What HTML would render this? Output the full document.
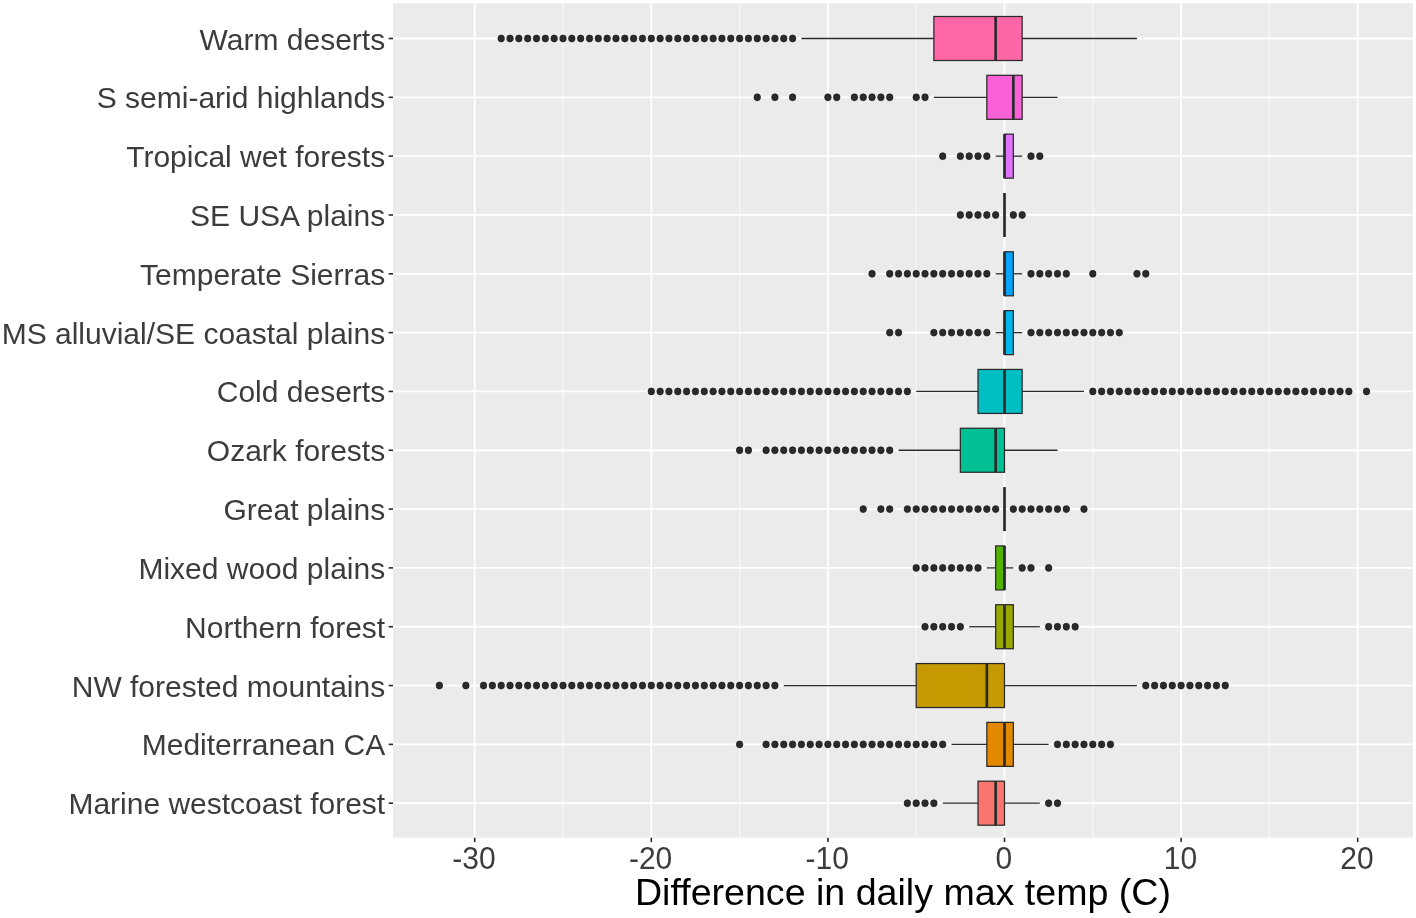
<!DOCTYPE html>
<html><head><meta charset="utf-8"><style>
html,body{margin:0;padding:0;background:#fff;}
body{width:1416px;height:918px;overflow:hidden;}
svg{display:block;font-family:"Liberation Sans", sans-serif;}
</style></head><body>
<svg width="1416" height="918" viewBox="0 0 1416 918">
<rect x="0" y="0" width="1416" height="918" fill="#FFFFFF"/>
<rect x="393.04" y="3.20" width="1019.86" height="834.50" fill="#EBEBEB"/>
<line x1="563.00" y1="3.20" x2="563.00" y2="837.70" stroke="#F8F8F8" stroke-width="1.2"/>
<line x1="739.60" y1="3.20" x2="739.60" y2="837.70" stroke="#F8F8F8" stroke-width="1.2"/>
<line x1="916.20" y1="3.20" x2="916.20" y2="837.70" stroke="#F8F8F8" stroke-width="1.2"/>
<line x1="1092.80" y1="3.20" x2="1092.80" y2="837.70" stroke="#F8F8F8" stroke-width="1.2"/>
<line x1="1269.40" y1="3.20" x2="1269.40" y2="837.70" stroke="#F8F8F8" stroke-width="1.2"/>
<line x1="474.70" y1="3.20" x2="474.70" y2="837.70" stroke="#FFFFFF" stroke-width="1.8"/>
<line x1="651.30" y1="3.20" x2="651.30" y2="837.70" stroke="#FFFFFF" stroke-width="1.8"/>
<line x1="827.90" y1="3.20" x2="827.90" y2="837.70" stroke="#FFFFFF" stroke-width="1.8"/>
<line x1="1004.50" y1="3.20" x2="1004.50" y2="837.70" stroke="#FFFFFF" stroke-width="1.8"/>
<line x1="1181.10" y1="3.20" x2="1181.10" y2="837.70" stroke="#FFFFFF" stroke-width="1.8"/>
<line x1="1357.70" y1="3.20" x2="1357.70" y2="837.70" stroke="#FFFFFF" stroke-width="1.8"/>
<line x1="393.04" y1="38.50" x2="1412.90" y2="38.50" stroke="#FFFFFF" stroke-width="1.8"/>
<line x1="393.04" y1="97.32" x2="1412.90" y2="97.32" stroke="#FFFFFF" stroke-width="1.8"/>
<line x1="393.04" y1="156.15" x2="1412.90" y2="156.15" stroke="#FFFFFF" stroke-width="1.8"/>
<line x1="393.04" y1="214.97" x2="1412.90" y2="214.97" stroke="#FFFFFF" stroke-width="1.8"/>
<line x1="393.04" y1="273.79" x2="1412.90" y2="273.79" stroke="#FFFFFF" stroke-width="1.8"/>
<line x1="393.04" y1="332.62" x2="1412.90" y2="332.62" stroke="#FFFFFF" stroke-width="1.8"/>
<line x1="393.04" y1="391.44" x2="1412.90" y2="391.44" stroke="#FFFFFF" stroke-width="1.8"/>
<line x1="393.04" y1="450.26" x2="1412.90" y2="450.26" stroke="#FFFFFF" stroke-width="1.8"/>
<line x1="393.04" y1="509.08" x2="1412.90" y2="509.08" stroke="#FFFFFF" stroke-width="1.8"/>
<line x1="393.04" y1="567.91" x2="1412.90" y2="567.91" stroke="#FFFFFF" stroke-width="1.8"/>
<line x1="393.04" y1="626.73" x2="1412.90" y2="626.73" stroke="#FFFFFF" stroke-width="1.8"/>
<line x1="393.04" y1="685.55" x2="1412.90" y2="685.55" stroke="#FFFFFF" stroke-width="1.8"/>
<line x1="393.04" y1="744.38" x2="1412.90" y2="744.38" stroke="#FFFFFF" stroke-width="1.8"/>
<line x1="393.04" y1="803.20" x2="1412.90" y2="803.20" stroke="#FFFFFF" stroke-width="1.8"/>
<line x1="801.41" y1="38.50" x2="933.86" y2="38.50" stroke="#2A2A2A" stroke-width="1.3"/>
<line x1="1022.16" y1="38.50" x2="1136.95" y2="38.50" stroke="#2A2A2A" stroke-width="1.3"/>
<ellipse cx="501.19" cy="38.50" rx="3.25" ry="3.45" fill="#2B2B2B" stroke="#161616" stroke-width="0.7"/>
<ellipse cx="510.02" cy="38.50" rx="3.25" ry="3.45" fill="#2B2B2B" stroke="#161616" stroke-width="0.7"/>
<ellipse cx="518.85" cy="38.50" rx="3.25" ry="3.45" fill="#2B2B2B" stroke="#161616" stroke-width="0.7"/>
<ellipse cx="527.68" cy="38.50" rx="3.25" ry="3.45" fill="#2B2B2B" stroke="#161616" stroke-width="0.7"/>
<ellipse cx="536.51" cy="38.50" rx="3.25" ry="3.45" fill="#2B2B2B" stroke="#161616" stroke-width="0.7"/>
<ellipse cx="545.34" cy="38.50" rx="3.25" ry="3.45" fill="#2B2B2B" stroke="#161616" stroke-width="0.7"/>
<ellipse cx="554.17" cy="38.50" rx="3.25" ry="3.45" fill="#2B2B2B" stroke="#161616" stroke-width="0.7"/>
<ellipse cx="563.00" cy="38.50" rx="3.25" ry="3.45" fill="#2B2B2B" stroke="#161616" stroke-width="0.7"/>
<ellipse cx="571.83" cy="38.50" rx="3.25" ry="3.45" fill="#2B2B2B" stroke="#161616" stroke-width="0.7"/>
<ellipse cx="580.66" cy="38.50" rx="3.25" ry="3.45" fill="#2B2B2B" stroke="#161616" stroke-width="0.7"/>
<ellipse cx="589.49" cy="38.50" rx="3.25" ry="3.45" fill="#2B2B2B" stroke="#161616" stroke-width="0.7"/>
<ellipse cx="598.32" cy="38.50" rx="3.25" ry="3.45" fill="#2B2B2B" stroke="#161616" stroke-width="0.7"/>
<ellipse cx="607.15" cy="38.50" rx="3.25" ry="3.45" fill="#2B2B2B" stroke="#161616" stroke-width="0.7"/>
<ellipse cx="615.98" cy="38.50" rx="3.25" ry="3.45" fill="#2B2B2B" stroke="#161616" stroke-width="0.7"/>
<ellipse cx="624.81" cy="38.50" rx="3.25" ry="3.45" fill="#2B2B2B" stroke="#161616" stroke-width="0.7"/>
<ellipse cx="633.64" cy="38.50" rx="3.25" ry="3.45" fill="#2B2B2B" stroke="#161616" stroke-width="0.7"/>
<ellipse cx="642.47" cy="38.50" rx="3.25" ry="3.45" fill="#2B2B2B" stroke="#161616" stroke-width="0.7"/>
<ellipse cx="651.30" cy="38.50" rx="3.25" ry="3.45" fill="#2B2B2B" stroke="#161616" stroke-width="0.7"/>
<ellipse cx="660.13" cy="38.50" rx="3.25" ry="3.45" fill="#2B2B2B" stroke="#161616" stroke-width="0.7"/>
<ellipse cx="668.96" cy="38.50" rx="3.25" ry="3.45" fill="#2B2B2B" stroke="#161616" stroke-width="0.7"/>
<ellipse cx="677.79" cy="38.50" rx="3.25" ry="3.45" fill="#2B2B2B" stroke="#161616" stroke-width="0.7"/>
<ellipse cx="686.62" cy="38.50" rx="3.25" ry="3.45" fill="#2B2B2B" stroke="#161616" stroke-width="0.7"/>
<ellipse cx="695.45" cy="38.50" rx="3.25" ry="3.45" fill="#2B2B2B" stroke="#161616" stroke-width="0.7"/>
<ellipse cx="704.28" cy="38.50" rx="3.25" ry="3.45" fill="#2B2B2B" stroke="#161616" stroke-width="0.7"/>
<ellipse cx="713.11" cy="38.50" rx="3.25" ry="3.45" fill="#2B2B2B" stroke="#161616" stroke-width="0.7"/>
<ellipse cx="721.94" cy="38.50" rx="3.25" ry="3.45" fill="#2B2B2B" stroke="#161616" stroke-width="0.7"/>
<ellipse cx="730.77" cy="38.50" rx="3.25" ry="3.45" fill="#2B2B2B" stroke="#161616" stroke-width="0.7"/>
<ellipse cx="739.60" cy="38.50" rx="3.25" ry="3.45" fill="#2B2B2B" stroke="#161616" stroke-width="0.7"/>
<ellipse cx="748.43" cy="38.50" rx="3.25" ry="3.45" fill="#2B2B2B" stroke="#161616" stroke-width="0.7"/>
<ellipse cx="757.26" cy="38.50" rx="3.25" ry="3.45" fill="#2B2B2B" stroke="#161616" stroke-width="0.7"/>
<ellipse cx="766.09" cy="38.50" rx="3.25" ry="3.45" fill="#2B2B2B" stroke="#161616" stroke-width="0.7"/>
<ellipse cx="774.92" cy="38.50" rx="3.25" ry="3.45" fill="#2B2B2B" stroke="#161616" stroke-width="0.7"/>
<ellipse cx="783.75" cy="38.50" rx="3.25" ry="3.45" fill="#2B2B2B" stroke="#161616" stroke-width="0.7"/>
<ellipse cx="792.58" cy="38.50" rx="3.25" ry="3.45" fill="#2B2B2B" stroke="#161616" stroke-width="0.7"/>
<rect x="933.86" y="16.50" width="88.30" height="44.00" fill="#FF66A8" stroke="#2A2A2A" stroke-width="1.25"/>
<line x1="995.67" y1="16.50" x2="995.67" y2="60.50" stroke="#2A2A2A" stroke-width="2.7"/>
<line x1="933.86" y1="97.32" x2="986.84" y2="97.32" stroke="#2A2A2A" stroke-width="1.3"/>
<line x1="1022.16" y1="97.32" x2="1057.48" y2="97.32" stroke="#2A2A2A" stroke-width="1.3"/>
<ellipse cx="757.26" cy="97.32" rx="3.25" ry="3.45" fill="#2B2B2B" stroke="#161616" stroke-width="0.7"/>
<ellipse cx="774.92" cy="97.32" rx="3.25" ry="3.45" fill="#2B2B2B" stroke="#161616" stroke-width="0.7"/>
<ellipse cx="792.58" cy="97.32" rx="3.25" ry="3.45" fill="#2B2B2B" stroke="#161616" stroke-width="0.7"/>
<ellipse cx="827.90" cy="97.32" rx="3.25" ry="3.45" fill="#2B2B2B" stroke="#161616" stroke-width="0.7"/>
<ellipse cx="836.73" cy="97.32" rx="3.25" ry="3.45" fill="#2B2B2B" stroke="#161616" stroke-width="0.7"/>
<ellipse cx="854.39" cy="97.32" rx="3.25" ry="3.45" fill="#2B2B2B" stroke="#161616" stroke-width="0.7"/>
<ellipse cx="863.22" cy="97.32" rx="3.25" ry="3.45" fill="#2B2B2B" stroke="#161616" stroke-width="0.7"/>
<ellipse cx="872.05" cy="97.32" rx="3.25" ry="3.45" fill="#2B2B2B" stroke="#161616" stroke-width="0.7"/>
<ellipse cx="880.88" cy="97.32" rx="3.25" ry="3.45" fill="#2B2B2B" stroke="#161616" stroke-width="0.7"/>
<ellipse cx="889.71" cy="97.32" rx="3.25" ry="3.45" fill="#2B2B2B" stroke="#161616" stroke-width="0.7"/>
<ellipse cx="916.20" cy="97.32" rx="3.25" ry="3.45" fill="#2B2B2B" stroke="#161616" stroke-width="0.7"/>
<ellipse cx="925.03" cy="97.32" rx="3.25" ry="3.45" fill="#2B2B2B" stroke="#161616" stroke-width="0.7"/>
<rect x="986.84" y="75.32" width="35.32" height="44.00" fill="#FB61D7" stroke="#2A2A2A" stroke-width="1.25"/>
<line x1="1013.33" y1="75.32" x2="1013.33" y2="119.32" stroke="#2A2A2A" stroke-width="2.7"/>
<line x1="995.67" y1="156.15" x2="1004.50" y2="156.15" stroke="#2A2A2A" stroke-width="1.3"/>
<line x1="1013.33" y1="156.15" x2="1022.16" y2="156.15" stroke="#2A2A2A" stroke-width="1.3"/>
<ellipse cx="942.69" cy="156.15" rx="3.25" ry="3.45" fill="#2B2B2B" stroke="#161616" stroke-width="0.7"/>
<ellipse cx="960.35" cy="156.15" rx="3.25" ry="3.45" fill="#2B2B2B" stroke="#161616" stroke-width="0.7"/>
<ellipse cx="969.18" cy="156.15" rx="3.25" ry="3.45" fill="#2B2B2B" stroke="#161616" stroke-width="0.7"/>
<ellipse cx="978.01" cy="156.15" rx="3.25" ry="3.45" fill="#2B2B2B" stroke="#161616" stroke-width="0.7"/>
<ellipse cx="986.84" cy="156.15" rx="3.25" ry="3.45" fill="#2B2B2B" stroke="#161616" stroke-width="0.7"/>
<ellipse cx="1030.99" cy="156.15" rx="3.25" ry="3.45" fill="#2B2B2B" stroke="#161616" stroke-width="0.7"/>
<ellipse cx="1039.82" cy="156.15" rx="3.25" ry="3.45" fill="#2B2B2B" stroke="#161616" stroke-width="0.7"/>
<rect x="1004.50" y="134.15" width="8.83" height="44.00" fill="#DF70F8" stroke="#2A2A2A" stroke-width="1.25"/>
<line x1="1004.50" y1="134.15" x2="1004.50" y2="178.15" stroke="#2A2A2A" stroke-width="2.7"/>
<ellipse cx="960.35" cy="214.97" rx="3.25" ry="3.45" fill="#2B2B2B" stroke="#161616" stroke-width="0.7"/>
<ellipse cx="969.18" cy="214.97" rx="3.25" ry="3.45" fill="#2B2B2B" stroke="#161616" stroke-width="0.7"/>
<ellipse cx="978.01" cy="214.97" rx="3.25" ry="3.45" fill="#2B2B2B" stroke="#161616" stroke-width="0.7"/>
<ellipse cx="986.84" cy="214.97" rx="3.25" ry="3.45" fill="#2B2B2B" stroke="#161616" stroke-width="0.7"/>
<ellipse cx="995.67" cy="214.97" rx="3.25" ry="3.45" fill="#2B2B2B" stroke="#161616" stroke-width="0.7"/>
<ellipse cx="1013.33" cy="214.97" rx="3.25" ry="3.45" fill="#2B2B2B" stroke="#161616" stroke-width="0.7"/>
<ellipse cx="1022.16" cy="214.97" rx="3.25" ry="3.45" fill="#2B2B2B" stroke="#161616" stroke-width="0.7"/>
<rect x="1004.50" y="192.97" width="0.00" height="44.00" fill="#A58AFF" stroke="#2A2A2A" stroke-width="1.25"/>
<line x1="1004.50" y1="192.97" x2="1004.50" y2="236.97" stroke="#2A2A2A" stroke-width="2.7"/>
<line x1="995.67" y1="273.79" x2="1004.50" y2="273.79" stroke="#2A2A2A" stroke-width="1.3"/>
<line x1="1013.33" y1="273.79" x2="1022.16" y2="273.79" stroke="#2A2A2A" stroke-width="1.3"/>
<ellipse cx="872.05" cy="273.79" rx="3.25" ry="3.45" fill="#2B2B2B" stroke="#161616" stroke-width="0.7"/>
<ellipse cx="889.71" cy="273.79" rx="3.25" ry="3.45" fill="#2B2B2B" stroke="#161616" stroke-width="0.7"/>
<ellipse cx="898.54" cy="273.79" rx="3.25" ry="3.45" fill="#2B2B2B" stroke="#161616" stroke-width="0.7"/>
<ellipse cx="907.37" cy="273.79" rx="3.25" ry="3.45" fill="#2B2B2B" stroke="#161616" stroke-width="0.7"/>
<ellipse cx="916.20" cy="273.79" rx="3.25" ry="3.45" fill="#2B2B2B" stroke="#161616" stroke-width="0.7"/>
<ellipse cx="925.03" cy="273.79" rx="3.25" ry="3.45" fill="#2B2B2B" stroke="#161616" stroke-width="0.7"/>
<ellipse cx="933.86" cy="273.79" rx="3.25" ry="3.45" fill="#2B2B2B" stroke="#161616" stroke-width="0.7"/>
<ellipse cx="942.69" cy="273.79" rx="3.25" ry="3.45" fill="#2B2B2B" stroke="#161616" stroke-width="0.7"/>
<ellipse cx="951.52" cy="273.79" rx="3.25" ry="3.45" fill="#2B2B2B" stroke="#161616" stroke-width="0.7"/>
<ellipse cx="960.35" cy="273.79" rx="3.25" ry="3.45" fill="#2B2B2B" stroke="#161616" stroke-width="0.7"/>
<ellipse cx="969.18" cy="273.79" rx="3.25" ry="3.45" fill="#2B2B2B" stroke="#161616" stroke-width="0.7"/>
<ellipse cx="978.01" cy="273.79" rx="3.25" ry="3.45" fill="#2B2B2B" stroke="#161616" stroke-width="0.7"/>
<ellipse cx="986.84" cy="273.79" rx="3.25" ry="3.45" fill="#2B2B2B" stroke="#161616" stroke-width="0.7"/>
<ellipse cx="1030.99" cy="273.79" rx="3.25" ry="3.45" fill="#2B2B2B" stroke="#161616" stroke-width="0.7"/>
<ellipse cx="1039.82" cy="273.79" rx="3.25" ry="3.45" fill="#2B2B2B" stroke="#161616" stroke-width="0.7"/>
<ellipse cx="1048.65" cy="273.79" rx="3.25" ry="3.45" fill="#2B2B2B" stroke="#161616" stroke-width="0.7"/>
<ellipse cx="1057.48" cy="273.79" rx="3.25" ry="3.45" fill="#2B2B2B" stroke="#161616" stroke-width="0.7"/>
<ellipse cx="1066.31" cy="273.79" rx="3.25" ry="3.45" fill="#2B2B2B" stroke="#161616" stroke-width="0.7"/>
<ellipse cx="1092.80" cy="273.79" rx="3.25" ry="3.45" fill="#2B2B2B" stroke="#161616" stroke-width="0.7"/>
<ellipse cx="1136.95" cy="273.79" rx="3.25" ry="3.45" fill="#2B2B2B" stroke="#161616" stroke-width="0.7"/>
<ellipse cx="1145.78" cy="273.79" rx="3.25" ry="3.45" fill="#2B2B2B" stroke="#161616" stroke-width="0.7"/>
<rect x="1004.50" y="251.79" width="8.83" height="44.00" fill="#06A4FF" stroke="#2A2A2A" stroke-width="1.25"/>
<line x1="1004.50" y1="251.79" x2="1004.50" y2="295.79" stroke="#2A2A2A" stroke-width="2.7"/>
<line x1="995.67" y1="332.62" x2="1004.50" y2="332.62" stroke="#2A2A2A" stroke-width="1.3"/>
<line x1="1013.33" y1="332.62" x2="1022.16" y2="332.62" stroke="#2A2A2A" stroke-width="1.3"/>
<ellipse cx="889.71" cy="332.62" rx="3.25" ry="3.45" fill="#2B2B2B" stroke="#161616" stroke-width="0.7"/>
<ellipse cx="898.54" cy="332.62" rx="3.25" ry="3.45" fill="#2B2B2B" stroke="#161616" stroke-width="0.7"/>
<ellipse cx="933.86" cy="332.62" rx="3.25" ry="3.45" fill="#2B2B2B" stroke="#161616" stroke-width="0.7"/>
<ellipse cx="942.69" cy="332.62" rx="3.25" ry="3.45" fill="#2B2B2B" stroke="#161616" stroke-width="0.7"/>
<ellipse cx="951.52" cy="332.62" rx="3.25" ry="3.45" fill="#2B2B2B" stroke="#161616" stroke-width="0.7"/>
<ellipse cx="960.35" cy="332.62" rx="3.25" ry="3.45" fill="#2B2B2B" stroke="#161616" stroke-width="0.7"/>
<ellipse cx="969.18" cy="332.62" rx="3.25" ry="3.45" fill="#2B2B2B" stroke="#161616" stroke-width="0.7"/>
<ellipse cx="978.01" cy="332.62" rx="3.25" ry="3.45" fill="#2B2B2B" stroke="#161616" stroke-width="0.7"/>
<ellipse cx="986.84" cy="332.62" rx="3.25" ry="3.45" fill="#2B2B2B" stroke="#161616" stroke-width="0.7"/>
<ellipse cx="1030.99" cy="332.62" rx="3.25" ry="3.45" fill="#2B2B2B" stroke="#161616" stroke-width="0.7"/>
<ellipse cx="1039.82" cy="332.62" rx="3.25" ry="3.45" fill="#2B2B2B" stroke="#161616" stroke-width="0.7"/>
<ellipse cx="1048.65" cy="332.62" rx="3.25" ry="3.45" fill="#2B2B2B" stroke="#161616" stroke-width="0.7"/>
<ellipse cx="1057.48" cy="332.62" rx="3.25" ry="3.45" fill="#2B2B2B" stroke="#161616" stroke-width="0.7"/>
<ellipse cx="1066.31" cy="332.62" rx="3.25" ry="3.45" fill="#2B2B2B" stroke="#161616" stroke-width="0.7"/>
<ellipse cx="1075.14" cy="332.62" rx="3.25" ry="3.45" fill="#2B2B2B" stroke="#161616" stroke-width="0.7"/>
<ellipse cx="1083.97" cy="332.62" rx="3.25" ry="3.45" fill="#2B2B2B" stroke="#161616" stroke-width="0.7"/>
<ellipse cx="1092.80" cy="332.62" rx="3.25" ry="3.45" fill="#2B2B2B" stroke="#161616" stroke-width="0.7"/>
<ellipse cx="1101.63" cy="332.62" rx="3.25" ry="3.45" fill="#2B2B2B" stroke="#161616" stroke-width="0.7"/>
<ellipse cx="1110.46" cy="332.62" rx="3.25" ry="3.45" fill="#2B2B2B" stroke="#161616" stroke-width="0.7"/>
<ellipse cx="1119.29" cy="332.62" rx="3.25" ry="3.45" fill="#2B2B2B" stroke="#161616" stroke-width="0.7"/>
<rect x="1004.50" y="310.62" width="8.83" height="44.00" fill="#00B6EB" stroke="#2A2A2A" stroke-width="1.25"/>
<line x1="1004.50" y1="310.62" x2="1004.50" y2="354.62" stroke="#2A2A2A" stroke-width="2.7"/>
<line x1="916.20" y1="391.44" x2="978.01" y2="391.44" stroke="#2A2A2A" stroke-width="1.3"/>
<line x1="1022.16" y1="391.44" x2="1083.97" y2="391.44" stroke="#2A2A2A" stroke-width="1.3"/>
<ellipse cx="651.30" cy="391.44" rx="3.25" ry="3.45" fill="#2B2B2B" stroke="#161616" stroke-width="0.7"/>
<ellipse cx="660.13" cy="391.44" rx="3.25" ry="3.45" fill="#2B2B2B" stroke="#161616" stroke-width="0.7"/>
<ellipse cx="668.96" cy="391.44" rx="3.25" ry="3.45" fill="#2B2B2B" stroke="#161616" stroke-width="0.7"/>
<ellipse cx="677.79" cy="391.44" rx="3.25" ry="3.45" fill="#2B2B2B" stroke="#161616" stroke-width="0.7"/>
<ellipse cx="686.62" cy="391.44" rx="3.25" ry="3.45" fill="#2B2B2B" stroke="#161616" stroke-width="0.7"/>
<ellipse cx="695.45" cy="391.44" rx="3.25" ry="3.45" fill="#2B2B2B" stroke="#161616" stroke-width="0.7"/>
<ellipse cx="704.28" cy="391.44" rx="3.25" ry="3.45" fill="#2B2B2B" stroke="#161616" stroke-width="0.7"/>
<ellipse cx="713.11" cy="391.44" rx="3.25" ry="3.45" fill="#2B2B2B" stroke="#161616" stroke-width="0.7"/>
<ellipse cx="721.94" cy="391.44" rx="3.25" ry="3.45" fill="#2B2B2B" stroke="#161616" stroke-width="0.7"/>
<ellipse cx="730.77" cy="391.44" rx="3.25" ry="3.45" fill="#2B2B2B" stroke="#161616" stroke-width="0.7"/>
<ellipse cx="739.60" cy="391.44" rx="3.25" ry="3.45" fill="#2B2B2B" stroke="#161616" stroke-width="0.7"/>
<ellipse cx="748.43" cy="391.44" rx="3.25" ry="3.45" fill="#2B2B2B" stroke="#161616" stroke-width="0.7"/>
<ellipse cx="757.26" cy="391.44" rx="3.25" ry="3.45" fill="#2B2B2B" stroke="#161616" stroke-width="0.7"/>
<ellipse cx="766.09" cy="391.44" rx="3.25" ry="3.45" fill="#2B2B2B" stroke="#161616" stroke-width="0.7"/>
<ellipse cx="774.92" cy="391.44" rx="3.25" ry="3.45" fill="#2B2B2B" stroke="#161616" stroke-width="0.7"/>
<ellipse cx="783.75" cy="391.44" rx="3.25" ry="3.45" fill="#2B2B2B" stroke="#161616" stroke-width="0.7"/>
<ellipse cx="792.58" cy="391.44" rx="3.25" ry="3.45" fill="#2B2B2B" stroke="#161616" stroke-width="0.7"/>
<ellipse cx="801.41" cy="391.44" rx="3.25" ry="3.45" fill="#2B2B2B" stroke="#161616" stroke-width="0.7"/>
<ellipse cx="810.24" cy="391.44" rx="3.25" ry="3.45" fill="#2B2B2B" stroke="#161616" stroke-width="0.7"/>
<ellipse cx="819.07" cy="391.44" rx="3.25" ry="3.45" fill="#2B2B2B" stroke="#161616" stroke-width="0.7"/>
<ellipse cx="827.90" cy="391.44" rx="3.25" ry="3.45" fill="#2B2B2B" stroke="#161616" stroke-width="0.7"/>
<ellipse cx="836.73" cy="391.44" rx="3.25" ry="3.45" fill="#2B2B2B" stroke="#161616" stroke-width="0.7"/>
<ellipse cx="845.56" cy="391.44" rx="3.25" ry="3.45" fill="#2B2B2B" stroke="#161616" stroke-width="0.7"/>
<ellipse cx="854.39" cy="391.44" rx="3.25" ry="3.45" fill="#2B2B2B" stroke="#161616" stroke-width="0.7"/>
<ellipse cx="863.22" cy="391.44" rx="3.25" ry="3.45" fill="#2B2B2B" stroke="#161616" stroke-width="0.7"/>
<ellipse cx="872.05" cy="391.44" rx="3.25" ry="3.45" fill="#2B2B2B" stroke="#161616" stroke-width="0.7"/>
<ellipse cx="880.88" cy="391.44" rx="3.25" ry="3.45" fill="#2B2B2B" stroke="#161616" stroke-width="0.7"/>
<ellipse cx="889.71" cy="391.44" rx="3.25" ry="3.45" fill="#2B2B2B" stroke="#161616" stroke-width="0.7"/>
<ellipse cx="898.54" cy="391.44" rx="3.25" ry="3.45" fill="#2B2B2B" stroke="#161616" stroke-width="0.7"/>
<ellipse cx="907.37" cy="391.44" rx="3.25" ry="3.45" fill="#2B2B2B" stroke="#161616" stroke-width="0.7"/>
<ellipse cx="1092.80" cy="391.44" rx="3.25" ry="3.45" fill="#2B2B2B" stroke="#161616" stroke-width="0.7"/>
<ellipse cx="1101.63" cy="391.44" rx="3.25" ry="3.45" fill="#2B2B2B" stroke="#161616" stroke-width="0.7"/>
<ellipse cx="1110.46" cy="391.44" rx="3.25" ry="3.45" fill="#2B2B2B" stroke="#161616" stroke-width="0.7"/>
<ellipse cx="1119.29" cy="391.44" rx="3.25" ry="3.45" fill="#2B2B2B" stroke="#161616" stroke-width="0.7"/>
<ellipse cx="1128.12" cy="391.44" rx="3.25" ry="3.45" fill="#2B2B2B" stroke="#161616" stroke-width="0.7"/>
<ellipse cx="1136.95" cy="391.44" rx="3.25" ry="3.45" fill="#2B2B2B" stroke="#161616" stroke-width="0.7"/>
<ellipse cx="1145.78" cy="391.44" rx="3.25" ry="3.45" fill="#2B2B2B" stroke="#161616" stroke-width="0.7"/>
<ellipse cx="1154.61" cy="391.44" rx="3.25" ry="3.45" fill="#2B2B2B" stroke="#161616" stroke-width="0.7"/>
<ellipse cx="1163.44" cy="391.44" rx="3.25" ry="3.45" fill="#2B2B2B" stroke="#161616" stroke-width="0.7"/>
<ellipse cx="1172.27" cy="391.44" rx="3.25" ry="3.45" fill="#2B2B2B" stroke="#161616" stroke-width="0.7"/>
<ellipse cx="1181.10" cy="391.44" rx="3.25" ry="3.45" fill="#2B2B2B" stroke="#161616" stroke-width="0.7"/>
<ellipse cx="1189.93" cy="391.44" rx="3.25" ry="3.45" fill="#2B2B2B" stroke="#161616" stroke-width="0.7"/>
<ellipse cx="1198.76" cy="391.44" rx="3.25" ry="3.45" fill="#2B2B2B" stroke="#161616" stroke-width="0.7"/>
<ellipse cx="1207.59" cy="391.44" rx="3.25" ry="3.45" fill="#2B2B2B" stroke="#161616" stroke-width="0.7"/>
<ellipse cx="1216.42" cy="391.44" rx="3.25" ry="3.45" fill="#2B2B2B" stroke="#161616" stroke-width="0.7"/>
<ellipse cx="1225.25" cy="391.44" rx="3.25" ry="3.45" fill="#2B2B2B" stroke="#161616" stroke-width="0.7"/>
<ellipse cx="1234.08" cy="391.44" rx="3.25" ry="3.45" fill="#2B2B2B" stroke="#161616" stroke-width="0.7"/>
<ellipse cx="1242.91" cy="391.44" rx="3.25" ry="3.45" fill="#2B2B2B" stroke="#161616" stroke-width="0.7"/>
<ellipse cx="1251.74" cy="391.44" rx="3.25" ry="3.45" fill="#2B2B2B" stroke="#161616" stroke-width="0.7"/>
<ellipse cx="1260.57" cy="391.44" rx="3.25" ry="3.45" fill="#2B2B2B" stroke="#161616" stroke-width="0.7"/>
<ellipse cx="1269.40" cy="391.44" rx="3.25" ry="3.45" fill="#2B2B2B" stroke="#161616" stroke-width="0.7"/>
<ellipse cx="1278.23" cy="391.44" rx="3.25" ry="3.45" fill="#2B2B2B" stroke="#161616" stroke-width="0.7"/>
<ellipse cx="1287.06" cy="391.44" rx="3.25" ry="3.45" fill="#2B2B2B" stroke="#161616" stroke-width="0.7"/>
<ellipse cx="1295.89" cy="391.44" rx="3.25" ry="3.45" fill="#2B2B2B" stroke="#161616" stroke-width="0.7"/>
<ellipse cx="1304.72" cy="391.44" rx="3.25" ry="3.45" fill="#2B2B2B" stroke="#161616" stroke-width="0.7"/>
<ellipse cx="1313.55" cy="391.44" rx="3.25" ry="3.45" fill="#2B2B2B" stroke="#161616" stroke-width="0.7"/>
<ellipse cx="1322.38" cy="391.44" rx="3.25" ry="3.45" fill="#2B2B2B" stroke="#161616" stroke-width="0.7"/>
<ellipse cx="1331.21" cy="391.44" rx="3.25" ry="3.45" fill="#2B2B2B" stroke="#161616" stroke-width="0.7"/>
<ellipse cx="1340.04" cy="391.44" rx="3.25" ry="3.45" fill="#2B2B2B" stroke="#161616" stroke-width="0.7"/>
<ellipse cx="1348.87" cy="391.44" rx="3.25" ry="3.45" fill="#2B2B2B" stroke="#161616" stroke-width="0.7"/>
<ellipse cx="1366.53" cy="391.44" rx="3.25" ry="3.45" fill="#2B2B2B" stroke="#161616" stroke-width="0.7"/>
<rect x="978.01" y="369.44" width="44.15" height="44.00" fill="#00BFC4" stroke="#2A2A2A" stroke-width="1.25"/>
<line x1="1004.50" y1="369.44" x2="1004.50" y2="413.44" stroke="#2A2A2A" stroke-width="2.7"/>
<line x1="898.54" y1="450.26" x2="960.35" y2="450.26" stroke="#2A2A2A" stroke-width="1.3"/>
<line x1="1004.50" y1="450.26" x2="1057.48" y2="450.26" stroke="#2A2A2A" stroke-width="1.3"/>
<ellipse cx="739.60" cy="450.26" rx="3.25" ry="3.45" fill="#2B2B2B" stroke="#161616" stroke-width="0.7"/>
<ellipse cx="748.43" cy="450.26" rx="3.25" ry="3.45" fill="#2B2B2B" stroke="#161616" stroke-width="0.7"/>
<ellipse cx="766.09" cy="450.26" rx="3.25" ry="3.45" fill="#2B2B2B" stroke="#161616" stroke-width="0.7"/>
<ellipse cx="774.92" cy="450.26" rx="3.25" ry="3.45" fill="#2B2B2B" stroke="#161616" stroke-width="0.7"/>
<ellipse cx="783.75" cy="450.26" rx="3.25" ry="3.45" fill="#2B2B2B" stroke="#161616" stroke-width="0.7"/>
<ellipse cx="792.58" cy="450.26" rx="3.25" ry="3.45" fill="#2B2B2B" stroke="#161616" stroke-width="0.7"/>
<ellipse cx="801.41" cy="450.26" rx="3.25" ry="3.45" fill="#2B2B2B" stroke="#161616" stroke-width="0.7"/>
<ellipse cx="810.24" cy="450.26" rx="3.25" ry="3.45" fill="#2B2B2B" stroke="#161616" stroke-width="0.7"/>
<ellipse cx="819.07" cy="450.26" rx="3.25" ry="3.45" fill="#2B2B2B" stroke="#161616" stroke-width="0.7"/>
<ellipse cx="827.90" cy="450.26" rx="3.25" ry="3.45" fill="#2B2B2B" stroke="#161616" stroke-width="0.7"/>
<ellipse cx="836.73" cy="450.26" rx="3.25" ry="3.45" fill="#2B2B2B" stroke="#161616" stroke-width="0.7"/>
<ellipse cx="845.56" cy="450.26" rx="3.25" ry="3.45" fill="#2B2B2B" stroke="#161616" stroke-width="0.7"/>
<ellipse cx="854.39" cy="450.26" rx="3.25" ry="3.45" fill="#2B2B2B" stroke="#161616" stroke-width="0.7"/>
<ellipse cx="863.22" cy="450.26" rx="3.25" ry="3.45" fill="#2B2B2B" stroke="#161616" stroke-width="0.7"/>
<ellipse cx="872.05" cy="450.26" rx="3.25" ry="3.45" fill="#2B2B2B" stroke="#161616" stroke-width="0.7"/>
<ellipse cx="880.88" cy="450.26" rx="3.25" ry="3.45" fill="#2B2B2B" stroke="#161616" stroke-width="0.7"/>
<ellipse cx="889.71" cy="450.26" rx="3.25" ry="3.45" fill="#2B2B2B" stroke="#161616" stroke-width="0.7"/>
<rect x="960.35" y="428.26" width="44.15" height="44.00" fill="#00C094" stroke="#2A2A2A" stroke-width="1.25"/>
<line x1="995.67" y1="428.26" x2="995.67" y2="472.26" stroke="#2A2A2A" stroke-width="2.7"/>
<ellipse cx="863.22" cy="509.08" rx="3.25" ry="3.45" fill="#2B2B2B" stroke="#161616" stroke-width="0.7"/>
<ellipse cx="880.88" cy="509.08" rx="3.25" ry="3.45" fill="#2B2B2B" stroke="#161616" stroke-width="0.7"/>
<ellipse cx="889.71" cy="509.08" rx="3.25" ry="3.45" fill="#2B2B2B" stroke="#161616" stroke-width="0.7"/>
<ellipse cx="907.37" cy="509.08" rx="3.25" ry="3.45" fill="#2B2B2B" stroke="#161616" stroke-width="0.7"/>
<ellipse cx="916.20" cy="509.08" rx="3.25" ry="3.45" fill="#2B2B2B" stroke="#161616" stroke-width="0.7"/>
<ellipse cx="925.03" cy="509.08" rx="3.25" ry="3.45" fill="#2B2B2B" stroke="#161616" stroke-width="0.7"/>
<ellipse cx="933.86" cy="509.08" rx="3.25" ry="3.45" fill="#2B2B2B" stroke="#161616" stroke-width="0.7"/>
<ellipse cx="942.69" cy="509.08" rx="3.25" ry="3.45" fill="#2B2B2B" stroke="#161616" stroke-width="0.7"/>
<ellipse cx="951.52" cy="509.08" rx="3.25" ry="3.45" fill="#2B2B2B" stroke="#161616" stroke-width="0.7"/>
<ellipse cx="960.35" cy="509.08" rx="3.25" ry="3.45" fill="#2B2B2B" stroke="#161616" stroke-width="0.7"/>
<ellipse cx="969.18" cy="509.08" rx="3.25" ry="3.45" fill="#2B2B2B" stroke="#161616" stroke-width="0.7"/>
<ellipse cx="978.01" cy="509.08" rx="3.25" ry="3.45" fill="#2B2B2B" stroke="#161616" stroke-width="0.7"/>
<ellipse cx="986.84" cy="509.08" rx="3.25" ry="3.45" fill="#2B2B2B" stroke="#161616" stroke-width="0.7"/>
<ellipse cx="995.67" cy="509.08" rx="3.25" ry="3.45" fill="#2B2B2B" stroke="#161616" stroke-width="0.7"/>
<ellipse cx="1013.33" cy="509.08" rx="3.25" ry="3.45" fill="#2B2B2B" stroke="#161616" stroke-width="0.7"/>
<ellipse cx="1022.16" cy="509.08" rx="3.25" ry="3.45" fill="#2B2B2B" stroke="#161616" stroke-width="0.7"/>
<ellipse cx="1030.99" cy="509.08" rx="3.25" ry="3.45" fill="#2B2B2B" stroke="#161616" stroke-width="0.7"/>
<ellipse cx="1039.82" cy="509.08" rx="3.25" ry="3.45" fill="#2B2B2B" stroke="#161616" stroke-width="0.7"/>
<ellipse cx="1048.65" cy="509.08" rx="3.25" ry="3.45" fill="#2B2B2B" stroke="#161616" stroke-width="0.7"/>
<ellipse cx="1057.48" cy="509.08" rx="3.25" ry="3.45" fill="#2B2B2B" stroke="#161616" stroke-width="0.7"/>
<ellipse cx="1066.31" cy="509.08" rx="3.25" ry="3.45" fill="#2B2B2B" stroke="#161616" stroke-width="0.7"/>
<ellipse cx="1083.97" cy="509.08" rx="3.25" ry="3.45" fill="#2B2B2B" stroke="#161616" stroke-width="0.7"/>
<rect x="1004.50" y="487.08" width="0.00" height="44.00" fill="#00BC56" stroke="#2A2A2A" stroke-width="1.25"/>
<line x1="1004.50" y1="487.08" x2="1004.50" y2="531.08" stroke="#2A2A2A" stroke-width="2.7"/>
<line x1="986.84" y1="567.91" x2="995.67" y2="567.91" stroke="#2A2A2A" stroke-width="1.3"/>
<line x1="1004.50" y1="567.91" x2="1013.33" y2="567.91" stroke="#2A2A2A" stroke-width="1.3"/>
<ellipse cx="916.20" cy="567.91" rx="3.25" ry="3.45" fill="#2B2B2B" stroke="#161616" stroke-width="0.7"/>
<ellipse cx="925.03" cy="567.91" rx="3.25" ry="3.45" fill="#2B2B2B" stroke="#161616" stroke-width="0.7"/>
<ellipse cx="933.86" cy="567.91" rx="3.25" ry="3.45" fill="#2B2B2B" stroke="#161616" stroke-width="0.7"/>
<ellipse cx="942.69" cy="567.91" rx="3.25" ry="3.45" fill="#2B2B2B" stroke="#161616" stroke-width="0.7"/>
<ellipse cx="951.52" cy="567.91" rx="3.25" ry="3.45" fill="#2B2B2B" stroke="#161616" stroke-width="0.7"/>
<ellipse cx="960.35" cy="567.91" rx="3.25" ry="3.45" fill="#2B2B2B" stroke="#161616" stroke-width="0.7"/>
<ellipse cx="969.18" cy="567.91" rx="3.25" ry="3.45" fill="#2B2B2B" stroke="#161616" stroke-width="0.7"/>
<ellipse cx="978.01" cy="567.91" rx="3.25" ry="3.45" fill="#2B2B2B" stroke="#161616" stroke-width="0.7"/>
<ellipse cx="1022.16" cy="567.91" rx="3.25" ry="3.45" fill="#2B2B2B" stroke="#161616" stroke-width="0.7"/>
<ellipse cx="1030.99" cy="567.91" rx="3.25" ry="3.45" fill="#2B2B2B" stroke="#161616" stroke-width="0.7"/>
<ellipse cx="1048.65" cy="567.91" rx="3.25" ry="3.45" fill="#2B2B2B" stroke="#161616" stroke-width="0.7"/>
<rect x="995.67" y="545.91" width="8.83" height="44.00" fill="#53B400" stroke="#2A2A2A" stroke-width="1.25"/>
<line x1="1004.50" y1="545.91" x2="1004.50" y2="589.91" stroke="#2A2A2A" stroke-width="2.7"/>
<line x1="969.18" y1="626.73" x2="995.67" y2="626.73" stroke="#2A2A2A" stroke-width="1.3"/>
<line x1="1013.33" y1="626.73" x2="1039.82" y2="626.73" stroke="#2A2A2A" stroke-width="1.3"/>
<ellipse cx="925.03" cy="626.73" rx="3.25" ry="3.45" fill="#2B2B2B" stroke="#161616" stroke-width="0.7"/>
<ellipse cx="933.86" cy="626.73" rx="3.25" ry="3.45" fill="#2B2B2B" stroke="#161616" stroke-width="0.7"/>
<ellipse cx="942.69" cy="626.73" rx="3.25" ry="3.45" fill="#2B2B2B" stroke="#161616" stroke-width="0.7"/>
<ellipse cx="951.52" cy="626.73" rx="3.25" ry="3.45" fill="#2B2B2B" stroke="#161616" stroke-width="0.7"/>
<ellipse cx="960.35" cy="626.73" rx="3.25" ry="3.45" fill="#2B2B2B" stroke="#161616" stroke-width="0.7"/>
<ellipse cx="1048.65" cy="626.73" rx="3.25" ry="3.45" fill="#2B2B2B" stroke="#161616" stroke-width="0.7"/>
<ellipse cx="1057.48" cy="626.73" rx="3.25" ry="3.45" fill="#2B2B2B" stroke="#161616" stroke-width="0.7"/>
<ellipse cx="1066.31" cy="626.73" rx="3.25" ry="3.45" fill="#2B2B2B" stroke="#161616" stroke-width="0.7"/>
<ellipse cx="1075.14" cy="626.73" rx="3.25" ry="3.45" fill="#2B2B2B" stroke="#161616" stroke-width="0.7"/>
<rect x="995.67" y="604.73" width="17.66" height="44.00" fill="#99A800" stroke="#2A2A2A" stroke-width="1.25"/>
<line x1="1004.50" y1="604.73" x2="1004.50" y2="648.73" stroke="#2A2A2A" stroke-width="2.7"/>
<line x1="783.75" y1="685.55" x2="916.20" y2="685.55" stroke="#2A2A2A" stroke-width="1.3"/>
<line x1="1004.50" y1="685.55" x2="1136.95" y2="685.55" stroke="#2A2A2A" stroke-width="1.3"/>
<ellipse cx="439.38" cy="685.55" rx="3.25" ry="3.45" fill="#2B2B2B" stroke="#161616" stroke-width="0.7"/>
<ellipse cx="465.87" cy="685.55" rx="3.25" ry="3.45" fill="#2B2B2B" stroke="#161616" stroke-width="0.7"/>
<ellipse cx="483.53" cy="685.55" rx="3.25" ry="3.45" fill="#2B2B2B" stroke="#161616" stroke-width="0.7"/>
<ellipse cx="492.36" cy="685.55" rx="3.25" ry="3.45" fill="#2B2B2B" stroke="#161616" stroke-width="0.7"/>
<ellipse cx="501.19" cy="685.55" rx="3.25" ry="3.45" fill="#2B2B2B" stroke="#161616" stroke-width="0.7"/>
<ellipse cx="510.02" cy="685.55" rx="3.25" ry="3.45" fill="#2B2B2B" stroke="#161616" stroke-width="0.7"/>
<ellipse cx="518.85" cy="685.55" rx="3.25" ry="3.45" fill="#2B2B2B" stroke="#161616" stroke-width="0.7"/>
<ellipse cx="527.68" cy="685.55" rx="3.25" ry="3.45" fill="#2B2B2B" stroke="#161616" stroke-width="0.7"/>
<ellipse cx="536.51" cy="685.55" rx="3.25" ry="3.45" fill="#2B2B2B" stroke="#161616" stroke-width="0.7"/>
<ellipse cx="545.34" cy="685.55" rx="3.25" ry="3.45" fill="#2B2B2B" stroke="#161616" stroke-width="0.7"/>
<ellipse cx="554.17" cy="685.55" rx="3.25" ry="3.45" fill="#2B2B2B" stroke="#161616" stroke-width="0.7"/>
<ellipse cx="563.00" cy="685.55" rx="3.25" ry="3.45" fill="#2B2B2B" stroke="#161616" stroke-width="0.7"/>
<ellipse cx="571.83" cy="685.55" rx="3.25" ry="3.45" fill="#2B2B2B" stroke="#161616" stroke-width="0.7"/>
<ellipse cx="580.66" cy="685.55" rx="3.25" ry="3.45" fill="#2B2B2B" stroke="#161616" stroke-width="0.7"/>
<ellipse cx="589.49" cy="685.55" rx="3.25" ry="3.45" fill="#2B2B2B" stroke="#161616" stroke-width="0.7"/>
<ellipse cx="598.32" cy="685.55" rx="3.25" ry="3.45" fill="#2B2B2B" stroke="#161616" stroke-width="0.7"/>
<ellipse cx="607.15" cy="685.55" rx="3.25" ry="3.45" fill="#2B2B2B" stroke="#161616" stroke-width="0.7"/>
<ellipse cx="615.98" cy="685.55" rx="3.25" ry="3.45" fill="#2B2B2B" stroke="#161616" stroke-width="0.7"/>
<ellipse cx="624.81" cy="685.55" rx="3.25" ry="3.45" fill="#2B2B2B" stroke="#161616" stroke-width="0.7"/>
<ellipse cx="633.64" cy="685.55" rx="3.25" ry="3.45" fill="#2B2B2B" stroke="#161616" stroke-width="0.7"/>
<ellipse cx="642.47" cy="685.55" rx="3.25" ry="3.45" fill="#2B2B2B" stroke="#161616" stroke-width="0.7"/>
<ellipse cx="651.30" cy="685.55" rx="3.25" ry="3.45" fill="#2B2B2B" stroke="#161616" stroke-width="0.7"/>
<ellipse cx="660.13" cy="685.55" rx="3.25" ry="3.45" fill="#2B2B2B" stroke="#161616" stroke-width="0.7"/>
<ellipse cx="668.96" cy="685.55" rx="3.25" ry="3.45" fill="#2B2B2B" stroke="#161616" stroke-width="0.7"/>
<ellipse cx="677.79" cy="685.55" rx="3.25" ry="3.45" fill="#2B2B2B" stroke="#161616" stroke-width="0.7"/>
<ellipse cx="686.62" cy="685.55" rx="3.25" ry="3.45" fill="#2B2B2B" stroke="#161616" stroke-width="0.7"/>
<ellipse cx="695.45" cy="685.55" rx="3.25" ry="3.45" fill="#2B2B2B" stroke="#161616" stroke-width="0.7"/>
<ellipse cx="704.28" cy="685.55" rx="3.25" ry="3.45" fill="#2B2B2B" stroke="#161616" stroke-width="0.7"/>
<ellipse cx="713.11" cy="685.55" rx="3.25" ry="3.45" fill="#2B2B2B" stroke="#161616" stroke-width="0.7"/>
<ellipse cx="721.94" cy="685.55" rx="3.25" ry="3.45" fill="#2B2B2B" stroke="#161616" stroke-width="0.7"/>
<ellipse cx="730.77" cy="685.55" rx="3.25" ry="3.45" fill="#2B2B2B" stroke="#161616" stroke-width="0.7"/>
<ellipse cx="739.60" cy="685.55" rx="3.25" ry="3.45" fill="#2B2B2B" stroke="#161616" stroke-width="0.7"/>
<ellipse cx="748.43" cy="685.55" rx="3.25" ry="3.45" fill="#2B2B2B" stroke="#161616" stroke-width="0.7"/>
<ellipse cx="757.26" cy="685.55" rx="3.25" ry="3.45" fill="#2B2B2B" stroke="#161616" stroke-width="0.7"/>
<ellipse cx="766.09" cy="685.55" rx="3.25" ry="3.45" fill="#2B2B2B" stroke="#161616" stroke-width="0.7"/>
<ellipse cx="774.92" cy="685.55" rx="3.25" ry="3.45" fill="#2B2B2B" stroke="#161616" stroke-width="0.7"/>
<ellipse cx="1145.78" cy="685.55" rx="3.25" ry="3.45" fill="#2B2B2B" stroke="#161616" stroke-width="0.7"/>
<ellipse cx="1154.61" cy="685.55" rx="3.25" ry="3.45" fill="#2B2B2B" stroke="#161616" stroke-width="0.7"/>
<ellipse cx="1163.44" cy="685.55" rx="3.25" ry="3.45" fill="#2B2B2B" stroke="#161616" stroke-width="0.7"/>
<ellipse cx="1172.27" cy="685.55" rx="3.25" ry="3.45" fill="#2B2B2B" stroke="#161616" stroke-width="0.7"/>
<ellipse cx="1181.10" cy="685.55" rx="3.25" ry="3.45" fill="#2B2B2B" stroke="#161616" stroke-width="0.7"/>
<ellipse cx="1189.93" cy="685.55" rx="3.25" ry="3.45" fill="#2B2B2B" stroke="#161616" stroke-width="0.7"/>
<ellipse cx="1198.76" cy="685.55" rx="3.25" ry="3.45" fill="#2B2B2B" stroke="#161616" stroke-width="0.7"/>
<ellipse cx="1207.59" cy="685.55" rx="3.25" ry="3.45" fill="#2B2B2B" stroke="#161616" stroke-width="0.7"/>
<ellipse cx="1216.42" cy="685.55" rx="3.25" ry="3.45" fill="#2B2B2B" stroke="#161616" stroke-width="0.7"/>
<ellipse cx="1225.25" cy="685.55" rx="3.25" ry="3.45" fill="#2B2B2B" stroke="#161616" stroke-width="0.7"/>
<rect x="916.20" y="663.55" width="88.30" height="44.00" fill="#C49A00" stroke="#2A2A2A" stroke-width="1.25"/>
<line x1="986.84" y1="663.55" x2="986.84" y2="707.55" stroke="#2A2A2A" stroke-width="2.7"/>
<line x1="951.52" y1="744.38" x2="986.84" y2="744.38" stroke="#2A2A2A" stroke-width="1.3"/>
<line x1="1013.33" y1="744.38" x2="1048.65" y2="744.38" stroke="#2A2A2A" stroke-width="1.3"/>
<ellipse cx="739.60" cy="744.38" rx="3.25" ry="3.45" fill="#2B2B2B" stroke="#161616" stroke-width="0.7"/>
<ellipse cx="766.09" cy="744.38" rx="3.25" ry="3.45" fill="#2B2B2B" stroke="#161616" stroke-width="0.7"/>
<ellipse cx="774.92" cy="744.38" rx="3.25" ry="3.45" fill="#2B2B2B" stroke="#161616" stroke-width="0.7"/>
<ellipse cx="783.75" cy="744.38" rx="3.25" ry="3.45" fill="#2B2B2B" stroke="#161616" stroke-width="0.7"/>
<ellipse cx="792.58" cy="744.38" rx="3.25" ry="3.45" fill="#2B2B2B" stroke="#161616" stroke-width="0.7"/>
<ellipse cx="801.41" cy="744.38" rx="3.25" ry="3.45" fill="#2B2B2B" stroke="#161616" stroke-width="0.7"/>
<ellipse cx="810.24" cy="744.38" rx="3.25" ry="3.45" fill="#2B2B2B" stroke="#161616" stroke-width="0.7"/>
<ellipse cx="819.07" cy="744.38" rx="3.25" ry="3.45" fill="#2B2B2B" stroke="#161616" stroke-width="0.7"/>
<ellipse cx="827.90" cy="744.38" rx="3.25" ry="3.45" fill="#2B2B2B" stroke="#161616" stroke-width="0.7"/>
<ellipse cx="836.73" cy="744.38" rx="3.25" ry="3.45" fill="#2B2B2B" stroke="#161616" stroke-width="0.7"/>
<ellipse cx="845.56" cy="744.38" rx="3.25" ry="3.45" fill="#2B2B2B" stroke="#161616" stroke-width="0.7"/>
<ellipse cx="854.39" cy="744.38" rx="3.25" ry="3.45" fill="#2B2B2B" stroke="#161616" stroke-width="0.7"/>
<ellipse cx="863.22" cy="744.38" rx="3.25" ry="3.45" fill="#2B2B2B" stroke="#161616" stroke-width="0.7"/>
<ellipse cx="872.05" cy="744.38" rx="3.25" ry="3.45" fill="#2B2B2B" stroke="#161616" stroke-width="0.7"/>
<ellipse cx="880.88" cy="744.38" rx="3.25" ry="3.45" fill="#2B2B2B" stroke="#161616" stroke-width="0.7"/>
<ellipse cx="889.71" cy="744.38" rx="3.25" ry="3.45" fill="#2B2B2B" stroke="#161616" stroke-width="0.7"/>
<ellipse cx="898.54" cy="744.38" rx="3.25" ry="3.45" fill="#2B2B2B" stroke="#161616" stroke-width="0.7"/>
<ellipse cx="907.37" cy="744.38" rx="3.25" ry="3.45" fill="#2B2B2B" stroke="#161616" stroke-width="0.7"/>
<ellipse cx="916.20" cy="744.38" rx="3.25" ry="3.45" fill="#2B2B2B" stroke="#161616" stroke-width="0.7"/>
<ellipse cx="925.03" cy="744.38" rx="3.25" ry="3.45" fill="#2B2B2B" stroke="#161616" stroke-width="0.7"/>
<ellipse cx="933.86" cy="744.38" rx="3.25" ry="3.45" fill="#2B2B2B" stroke="#161616" stroke-width="0.7"/>
<ellipse cx="942.69" cy="744.38" rx="3.25" ry="3.45" fill="#2B2B2B" stroke="#161616" stroke-width="0.7"/>
<ellipse cx="1057.48" cy="744.38" rx="3.25" ry="3.45" fill="#2B2B2B" stroke="#161616" stroke-width="0.7"/>
<ellipse cx="1066.31" cy="744.38" rx="3.25" ry="3.45" fill="#2B2B2B" stroke="#161616" stroke-width="0.7"/>
<ellipse cx="1075.14" cy="744.38" rx="3.25" ry="3.45" fill="#2B2B2B" stroke="#161616" stroke-width="0.7"/>
<ellipse cx="1083.97" cy="744.38" rx="3.25" ry="3.45" fill="#2B2B2B" stroke="#161616" stroke-width="0.7"/>
<ellipse cx="1092.80" cy="744.38" rx="3.25" ry="3.45" fill="#2B2B2B" stroke="#161616" stroke-width="0.7"/>
<ellipse cx="1101.63" cy="744.38" rx="3.25" ry="3.45" fill="#2B2B2B" stroke="#161616" stroke-width="0.7"/>
<ellipse cx="1110.46" cy="744.38" rx="3.25" ry="3.45" fill="#2B2B2B" stroke="#161616" stroke-width="0.7"/>
<rect x="986.84" y="722.38" width="26.49" height="44.00" fill="#E38900" stroke="#2A2A2A" stroke-width="1.25"/>
<line x1="1004.50" y1="722.38" x2="1004.50" y2="766.38" stroke="#2A2A2A" stroke-width="2.7"/>
<line x1="942.69" y1="803.20" x2="978.01" y2="803.20" stroke="#2A2A2A" stroke-width="1.3"/>
<line x1="1004.50" y1="803.20" x2="1039.82" y2="803.20" stroke="#2A2A2A" stroke-width="1.3"/>
<ellipse cx="907.37" cy="803.20" rx="3.25" ry="3.45" fill="#2B2B2B" stroke="#161616" stroke-width="0.7"/>
<ellipse cx="916.20" cy="803.20" rx="3.25" ry="3.45" fill="#2B2B2B" stroke="#161616" stroke-width="0.7"/>
<ellipse cx="925.03" cy="803.20" rx="3.25" ry="3.45" fill="#2B2B2B" stroke="#161616" stroke-width="0.7"/>
<ellipse cx="933.86" cy="803.20" rx="3.25" ry="3.45" fill="#2B2B2B" stroke="#161616" stroke-width="0.7"/>
<ellipse cx="1048.65" cy="803.20" rx="3.25" ry="3.45" fill="#2B2B2B" stroke="#161616" stroke-width="0.7"/>
<ellipse cx="1057.48" cy="803.20" rx="3.25" ry="3.45" fill="#2B2B2B" stroke="#161616" stroke-width="0.7"/>
<rect x="978.01" y="781.20" width="26.49" height="44.00" fill="#F8766D" stroke="#2A2A2A" stroke-width="1.25"/>
<line x1="995.67" y1="781.20" x2="995.67" y2="825.20" stroke="#2A2A2A" stroke-width="2.7"/>
<g style="will-change:transform">
<line x1="388.64" y1="38.50" x2="393.04" y2="38.50" stroke="#2A2A2A" stroke-width="1.62"/>
<text x="385.20" y="49.52" text-anchor="end" font-size="30.0" fill="#3C3C3C">Warm deserts</text>
<line x1="388.64" y1="97.32" x2="393.04" y2="97.32" stroke="#2A2A2A" stroke-width="1.62"/>
<text x="385.20" y="108.34" text-anchor="end" font-size="30.0" fill="#3C3C3C">S semi-arid highlands</text>
<line x1="388.64" y1="156.15" x2="393.04" y2="156.15" stroke="#2A2A2A" stroke-width="1.62"/>
<text x="385.20" y="167.17" text-anchor="end" font-size="30.0" fill="#3C3C3C">Tropical wet forests</text>
<line x1="388.64" y1="214.97" x2="393.04" y2="214.97" stroke="#2A2A2A" stroke-width="1.62"/>
<text x="385.20" y="225.99" text-anchor="end" font-size="30.0" fill="#3C3C3C">SE USA plains</text>
<line x1="388.64" y1="273.79" x2="393.04" y2="273.79" stroke="#2A2A2A" stroke-width="1.62"/>
<text x="385.20" y="284.81" text-anchor="end" font-size="30.0" fill="#3C3C3C">Temperate Sierras</text>
<line x1="388.64" y1="332.62" x2="393.04" y2="332.62" stroke="#2A2A2A" stroke-width="1.62"/>
<text x="385.20" y="343.63" text-anchor="end" font-size="30.0" fill="#3C3C3C">MS alluvial/SE coastal plains</text>
<line x1="388.64" y1="391.44" x2="393.04" y2="391.44" stroke="#2A2A2A" stroke-width="1.62"/>
<text x="385.20" y="402.46" text-anchor="end" font-size="30.0" fill="#3C3C3C">Cold deserts</text>
<line x1="388.64" y1="450.26" x2="393.04" y2="450.26" stroke="#2A2A2A" stroke-width="1.62"/>
<text x="385.20" y="461.28" text-anchor="end" font-size="30.0" fill="#3C3C3C">Ozark forests</text>
<line x1="388.64" y1="509.08" x2="393.04" y2="509.08" stroke="#2A2A2A" stroke-width="1.62"/>
<text x="385.20" y="520.10" text-anchor="end" font-size="30.0" fill="#3C3C3C">Great plains</text>
<line x1="388.64" y1="567.91" x2="393.04" y2="567.91" stroke="#2A2A2A" stroke-width="1.62"/>
<text x="385.20" y="578.93" text-anchor="end" font-size="30.0" fill="#3C3C3C">Mixed wood plains</text>
<line x1="388.64" y1="626.73" x2="393.04" y2="626.73" stroke="#2A2A2A" stroke-width="1.62"/>
<text x="385.20" y="637.75" text-anchor="end" font-size="30.0" fill="#3C3C3C">Northern forest</text>
<line x1="388.64" y1="685.55" x2="393.04" y2="685.55" stroke="#2A2A2A" stroke-width="1.62"/>
<text x="385.20" y="696.57" text-anchor="end" font-size="30.0" fill="#3C3C3C">NW forested mountains</text>
<line x1="388.64" y1="744.38" x2="393.04" y2="744.38" stroke="#2A2A2A" stroke-width="1.62"/>
<text x="385.20" y="755.40" text-anchor="end" font-size="30.0" fill="#3C3C3C">Mediterranean CA</text>
<line x1="388.64" y1="803.20" x2="393.04" y2="803.20" stroke="#2A2A2A" stroke-width="1.62"/>
<text x="385.20" y="814.22" text-anchor="end" font-size="30.0" fill="#3C3C3C">Marine westcoast forest</text>
<line x1="474.70" y1="837.70" x2="474.70" y2="842.10" stroke="#2A2A2A" stroke-width="1.62"/>
<text x="474.00" y="868.62" text-anchor="middle" font-size="30.0" fill="#3C3C3C" transform="matrix(1 0 0 1.03 0 -25.749)">-30</text>
<line x1="651.30" y1="837.70" x2="651.30" y2="842.10" stroke="#2A2A2A" stroke-width="1.62"/>
<text x="650.60" y="868.62" text-anchor="middle" font-size="30.0" fill="#3C3C3C" transform="matrix(1 0 0 1.03 0 -25.749)">-20</text>
<line x1="827.90" y1="837.70" x2="827.90" y2="842.10" stroke="#2A2A2A" stroke-width="1.62"/>
<text x="827.20" y="868.62" text-anchor="middle" font-size="30.0" fill="#3C3C3C" transform="matrix(1 0 0 1.03 0 -25.749)">-10</text>
<line x1="1004.50" y1="837.70" x2="1004.50" y2="842.10" stroke="#2A2A2A" stroke-width="1.62"/>
<text x="1003.80" y="868.62" text-anchor="middle" font-size="30.0" fill="#3C3C3C" transform="matrix(1 0 0 1.03 0 -25.749)">0</text>
<line x1="1181.10" y1="837.70" x2="1181.10" y2="842.10" stroke="#2A2A2A" stroke-width="1.62"/>
<text x="1180.40" y="868.62" text-anchor="middle" font-size="30.0" fill="#3C3C3C" transform="matrix(1 0 0 1.03 0 -25.749)">10</text>
<line x1="1357.70" y1="837.70" x2="1357.70" y2="842.10" stroke="#2A2A2A" stroke-width="1.62"/>
<text x="1357.00" y="868.62" text-anchor="middle" font-size="30.0" fill="#3C3C3C" transform="matrix(1 0 0 1.03 0 -25.749)">20</text>
<text x="902.97" y="904.83" text-anchor="middle" font-size="37.6" fill="#000000">Difference in daily max temp (C)</text>
</g>
</svg>
</body></html>
